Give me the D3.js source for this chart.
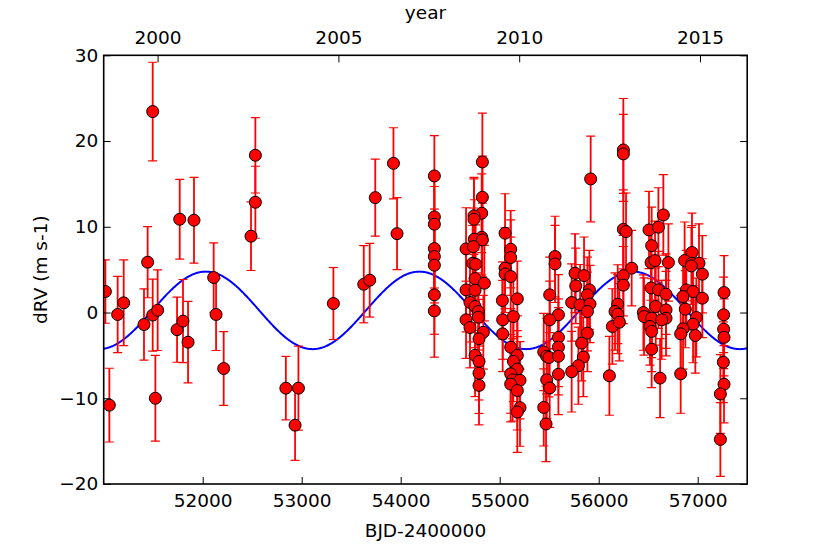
<!DOCTYPE html>
<html>
<head>
<meta charset="utf-8">
<script src="https://cdn.jsdelivr.net/npm/d3@7"></script>
<style>
	body { margin: 0; background: #fff; }
	svg { display: block; font-family: "DejaVu Sans", sans-serif; }
</style>
</head>
<body>
<svg id="rvplot" width="830" height="554"></svg>
<script>
const bjd = [
	51017, 51057, 51141, 51202, 51407, 51444, 51495, 51495, 51522, 51545,
	51741, 51768, 51801, 51852, 51912, 52111, 52135, 52212, 52488, 52532, 52532,
	52840, 52933, 52967, 53320, 53627, 53687, 53743, 53927, 53963,
	54340, 54340, 54340, 54340, 54340, 54340, 54340, 54340,
	54825, 54825, 54818, 54740, 54740, 54818, 54744, 54825, 54660, 54734,
	54727, 54757, 54751, 54845, 54660, 54751, 54700, 54751, 54784, 54784,
	54660, 54700, 54835, 54791, 54751, 54791, 54791, 54791,
	55054, 55111, 55111, 55054, 55054, 55111, 55027, 55178, 55030, 55138, 55030,
	55111, 55178, 55138, 55178, 55111, 55131, 55205, 55111, 55178, 55205, 55178,
	55919, 55559, 55559, 55505, 55593, 55505, 55761, 55852, 55768, 55906, 55727,
	55886, 55812, 55912, 55886, 55886, 55828, 55845, 55795, 55727, 55593, 55593,
	55445, 55475, 55498, 55593, 55593, 55475, 55505, 55445, 55468,
	56249, 56249, 56249, 56276, 56333, 56249, 56249, 56192, 56165, 56192, 56138,
	56209, 56108, 56653, 56508, 56603, 56535, 56529, 56569, 56704, 56529, 56603,
	56680, 56576, 56451, 56458, 56535, 56680, 56680, 56636, 56518, 56535, 56535, 56620,
	56942, 56868, 56942, 57013, 56936, 57047, 56885, 56953, 56852, 57047, 56875,
	56986, 56953, 56852, 56828, 56976, 56828,
	57266, 57262, 57262, 57266, 57259, 57266, 57229, 57229
];
const rv = [
	2.45, -10.8, -0.23, 1.13, -1.4, 5.87, 23.44, -0.3, -10.0, 0.27,
	-2.0, 10.88, -1.0, -3.46, 10.77, 4.08, -0.23, -6.53, 8.9, 12.86, 18.34,
	-8.82, -13.14, -8.82, 1.05, 3.3, 3.77, 13.4, 17.4, 9.2,
	15.93, 11.15, 10.3, 7.46, 6.53, 5.52, 2.06, 0.19,
	17.56, 13.44, 11.58, 11.27, 10.88, 8.78, 8.55, 8.47, 7.42, 7.69,
	5.75, 5.63, 3.96, 3.42, 2.64, 2.6, 1.17, 0.7, 0.12, -0.54,
	-0.85, -1.75, -2.3, -3.07, -5.0, -5.7, -7.07, -8.5,
	9.25, 7.38, 6.41, 5.17, 4.5, 4.2, 1.4, 1.6, -0.85, -0.47, -2.49,
	-4.04, -5.0, -5.7, -6.6, -7.15, -7.85, -7.9, -8.35, -9.1, -11.1, -11.6,
	15.58, 6.53, 5.67, 2.06, -0.27, -0.85, 4.58, 4.31, 3.1, 2.64, 1.17,
	2.06, 0.9, 1.0, 0.12, -2.4, -3.57, -5.2, -6.2, -6.9, -2.9, -4.04,
	-4.6, -5.1, -5.24, -5.1, -7.2, -7.85, -8.8, -11.07, -13.0,
	18.96, 18.5, 9.7, 9.44, 5.17, 4.3, 3.2, 0.97, 0.12, -0.19, -1.63,
	-1.13, -7.38, 11.38, 9.63, 9.95, 7.8, 5.83, 6.06, 5.83, 2.87, 2.64,
	2.14, 0.7, 0.0, -0.47, -0.66, 0.31, -0.66, -0.85, -1.63, -2.2, -4.27, -7.65,
	7.0, 6.06, 5.75, 5.75, 5.44, 4.47, 2.64, 2.45, 1.86, 1.67, 0.39,
	-0.58, -1.36, -1.9, -2.49, -2.68, -7.15,
	2.33, -0.27, -1.94, -2.9, -5.8, -8.36, -9.5, -14.8
];
const rvErr = [
	3.7, 4.3, 4.45, 5.0, 4.15, 4.15, 5.75, 4.2, 5.0, 4.7,
	3.8, 4.65, 4.85, 4.75, 5.0, 4.05, 4.2, 4.3, 4.0, 4.2, 4.4,
	3.7, 4.1, 4.9, 4.2, 4.5, 4.3, 4.5, 4.15, 4.2,
	4.7, 4.5, 4.4, 4.6, 4.5, 4.4, 4.6, 5.4,
	5.7, 4.8, 4.6, 4.5, 4.7, 4.4, 4.6, 4.3, 4.8, 4.5,
	4.4, 4.6, 4.5, 4.4, 4.9, 4.7, 4.6, 4.8, 4.5, 4.4,
	4.5, 4.7, 4.3, 4.6, 4.8, 4.5, 4.7, 4.6,
	4.6, 4.5, 4.4, 4.7, 4.5, 4.6, 4.5, 4.4, 4.6, 4.8, 4.4,
	4.5, 4.6, 4.7, 4.5, 4.6, 4.8, 4.5, 4.4, 4.6, 4.5, 4.7,
	5.0, 4.7, 4.5, 4.4, 4.7, 4.5, 4.6, 4.5, 4.4, 4.6, 4.5,
	4.4, 4.7, 4.5, 4.6, 4.5, 4.4, 4.6, 4.5, 4.7, 4.5, 4.6,
	4.5, 4.4, 4.6, 4.5, 4.7, 4.5, 4.6, 4.5, 4.4,
	6.0, 4.6, 4.6, 4.5, 4.4, 4.7, 4.5, 4.6, 4.5, 4.6, 4.4,
	4.5, 4.6, 4.7, 4.5, 4.6, 4.5, 4.4, 4.6, 4.5, 4.6, 4.5,
	4.7, 4.5, 4.4, 4.5, 4.6, 4.5, 4.4, 4.6, 4.5, 4.7, 4.5, 4.6,
	4.6, 4.5, 4.4, 4.6, 4.5, 4.5, 4.6, 4.5, 4.4, 4.6, 4.5,
	4.6, 4.5, 4.7, 4.5, 4.4, 4.6,
	4.3, 4.4, 4.6, 4.5, 4.7, 4.5, 4.6, 4.3
];

// tick labels
const bjdTicks = [52000, 53000, 54000, 55000, 56000, 57000];
const yearTicks = [2000, 2005, 2010, 2015];
const rvTicks = [-20, -10, 0, 10, 20, 30];

// sinusoid model drawn over the data
const modelPeriod = 2158;
const modelAmp = 4.52;
const modelPeak = 52031;
const modelOffset = 0.25;

const W = 830, H = 554;
const padLeft = 103.7, padRight = 747.2, padTop = 55.3, padBottom = 484;
const fontSize = 18.5;

const svg = d3.select("#rvplot");

const x = d3.scaleLinear().domain([51000, 57500]).range([padLeft, padRight]);
const y = d3.scaleLinear().domain([-20, 30]).range([padBottom, padTop]);
// calendar year on the top axis, J2000.0 = JD 2451544.5
const toYear = t => 2000 + (t - 51544.5) / 365.25;
const yr = d3.scaleLinear().domain(x.domain().map(toYear)).range([padLeft, padRight]);

svg.append("defs").append("clipPath").attr("id", "plotclip")
	.append("rect").attr("x", padLeft).attr("y", padTop).attr("width", padRight - padLeft).attr("height", padBottom - padTop);

const plot = svg.append("g").attr("clip-path", "url(#plotclip)");

// model curve goes first so the points sit on top of it
const modelT = d3.range(51000, 57501, 5);
const line = d3.line().x(t => x(t)).y(t => y(modelOffset + modelAmp * Math.cos(2 * Math.PI * (t - modelPeak) / modelPeriod)));
plot.append("path").datum(modelT).attr("d", line)
	.attr("fill", "none").attr("stroke", "#0000ff").attr("stroke-width", 2);

const pts = bjd.map((t, i) => ({t: t, v: rv[i], e: rvErr[i]}));

// error bars with caps
const bars = plot.append("g").attr("stroke", "#ff0000");
bars.selectAll("line.bar").data(pts).enter().append("line").attr("class", "bar")
	.attr("x1", d => x(d.t)).attr("x2", d => x(d.t))
	.attr("y1", d => y(d.v + d.e)).attr("y2", d => y(d.v - d.e))
	.attr("stroke-width", 1.8);
const cap = 4.5;
["hi", "lo"].forEach(k => {
	bars.selectAll("line.cap" + k).data(pts).enter().append("line").attr("class", "cap" + k)
		.attr("x1", d => x(d.t) - cap).attr("x2", d => x(d.t) + cap)
		.attr("y1", d => y(k == "hi" ? d.v + d.e : d.v - d.e))
		.attr("y2", d => y(k == "hi" ? d.v + d.e : d.v - d.e))
		.attr("stroke-width", 1.2);
});

plot.append("g").selectAll("circle").data(pts).enter().append("circle")
	.attr("cx", d => x(d.t)).attr("cy", d => y(d.v)).attr("r", 6)
	.attr("fill", "#ff0000").attr("stroke", "#000").attr("stroke-width", 1);

// axes, ticks point inward like the classic matplotlib style
function styleAxis(g) {
	g.select(".domain").remove();
	g.selectAll(".tick line").attr("stroke", "#000").attr("stroke-width", 1);
	g.selectAll("text").attr("font-size", fontSize).attr("font-family", "DejaVu Sans").attr("fill", "#000");
}

svg.append("g").attr("transform", `translate(0,${padBottom})`)
	.call(d3.axisBottom(x).tickValues(bjdTicks).tickFormat(d3.format("d")).tickSize(-7).tickPadding(9.7))
	.call(styleAxis);
svg.append("g").attr("transform", `translate(0,${padTop})`)
	.call(d3.axisTop(yr).tickValues(yearTicks).tickFormat(d3.format("d")).tickSize(-7).tickPadding(11.7))
	.call(styleAxis);
svg.append("g").attr("transform", `translate(${padLeft},0)`)
	.call(d3.axisLeft(y).tickValues(rvTicks).tickFormat(d3.format("d")).tickSize(-7).tickPadding(5.4))
	.call(styleAxis);
svg.append("g").attr("transform", `translate(${padRight},0)`)
	.call(d3.axisRight(y).tickValues(rvTicks).tickFormat("").tickSize(-7))
	.call(styleAxis);

svg.append("rect").attr("x", padLeft).attr("y", padTop).attr("width", padRight - padLeft).attr("height", padBottom - padTop)
	.attr("fill", "none").attr("stroke", "#000").attr("stroke-width", 1.6);

// axis titles
svg.append("text").attr("x", (padLeft + padRight) / 2).attr("y", 536.5).attr("text-anchor", "middle")
	.attr("font-size", fontSize).text("BJD-2400000");
svg.append("text").attr("x", (padLeft + padRight) / 2).attr("y", 18.5).attr("text-anchor", "middle")
	.attr("font-size", fontSize).text("year");
svg.append("text").attr("transform", `translate(47,${(padTop + padBottom) / 2}) rotate(-90)`).attr("text-anchor", "middle")
	.attr("font-size", fontSize).text("dRV (m s-1)");
</script>
</body>
</html>
